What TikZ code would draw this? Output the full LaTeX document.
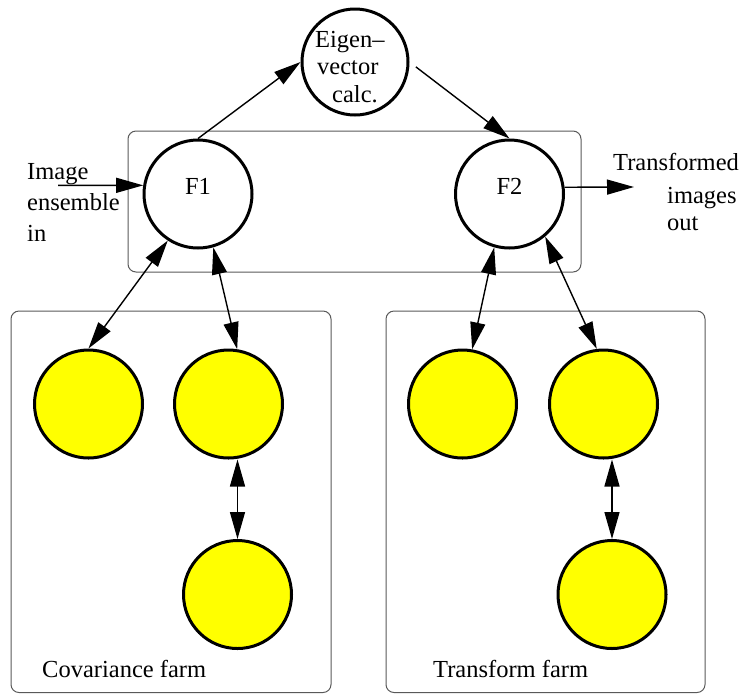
\documentclass[tikz,border=0pt]{standalone}
\usepackage{fontspec}
\setmainfont{Liberation Serif}
\usetikzlibrary{arrows.meta}

\definecolor{workerfill}{RGB}{255,255,0}

\tikzset{
  proc/.style={circle, draw=black, line width=3pt, minimum size=108pt, inner sep=0pt,
               text height=8pt, text depth=8pt, font=\fontsize{24.5}{30.5}\selectfont},
  worker/.style={proc, fill=workerfill},
  farmbox/.style={draw=black!65, line width=1pt, rounded corners=8pt},
  txt/.style={inner sep=0pt, align=left, font=\fontsize{24.5}{31}\selectfont},
  flow/.style={line width=1.4pt, -{Triangle[length=27pt,width=15pt]}},
  duplex/.style={line width=1.4pt, {Triangle[length=27pt,width=15pt]}-{Triangle[length=27pt,width=15pt]}}
}

\begin{document}
\begin{tikzpicture}[x=1pt,y=1pt]
  \useasboundingbox (0,0) rectangle (743,-694);

  % enclosing boxes
  \draw[farmbox] (128,-131) rectangle (581,-272);
  \draw[farmbox] (11,-311) rectangle (331,-692.5);
  \draw[farmbox] (386,-311) rectangle (705,-692.5);

  % main processes
  \node[proc] (F1) at (198,-194) {F1};
  \node[proc] (F2) at (509.5,-194) {F2};
  \node[proc, minimum size=106pt] (eig) at (355,-62) {};
  % the base anchor of a multi-line node sits on its last line
  \node[txt, anchor=base west, font=\fontsize{24.5}{27.5}\selectfont] (eiglabel) at (315,-102)
       {Eigen–\\\hspace*{2pt}vector\\\hspace*{17pt}calc.};

  % covariance farm workers
  \node[worker] (c1) at (88.5,-404) {};
  \node[worker] (c2) at (228.5,-404) {};
  \node[worker] (c3) at (237.5,-594.5) {};
  \node[txt, anchor=base west] (covlabel) at (42,-677) {Covariance farm};

  % transform farm workers
  \node[worker] (t1) at (462.5,-404) {};
  \node[worker] (t2) at (603.5,-404) {};
  \node[worker] (t3) at (612,-594.5) {};
  \node[txt, anchor=base west] (trlabel) at (433,-677) {Transform farm};

  % input and output
  \coordinate (in) at (58,-185.3);
  \coordinate (out) at (634,-187);
  \node[txt, anchor=base west] (inlabel) at (27,-241) {Image\\ensemble\\in};
  \node[txt, anchor=base west] (outlabel) at (613,-230)
       {Transformed\\[1.5pt]\hspace*{54pt}images\\[-4pt]\hspace*{54pt}out};

  % connectors
  \draw[flow] (in) -- (F1.171);
  \draw[flow] (F2.7) -- (out);
  \draw[flow] (F1.north) -- (eig.west);
  \draw[flow, shorten <=8pt] (eig.east) -- (F2.north);

  \draw[duplex] (c1.north) -- (F1.-123);
  \draw[duplex] (c2.81) -- (F1.-74);
  \draw[duplex] (c2.south -| c3.north) -- (c3.north);

  \draw[duplex] (t1.80) -- (F2.-106);
  \draw[duplex] (t2.97) -- (F2.-50);
  \draw[duplex] (t2.south -| t3.north) -- (t3.north);
\end{tikzpicture}
\end{document}
